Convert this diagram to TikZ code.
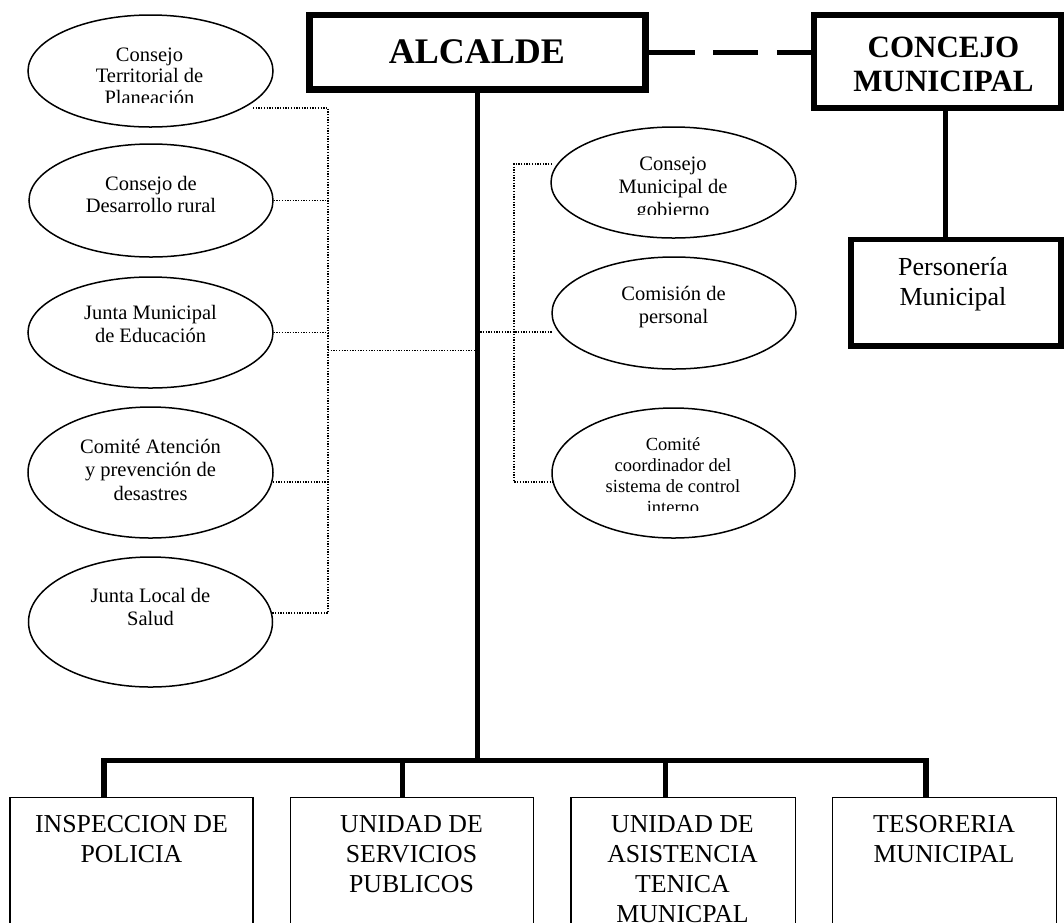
\documentclass[tikz,border=0pt]{standalone}
\usepackage{fontspec}
\setmainfont{Liberation Serif}
\usetikzlibrary{shapes.geometric}
\begin{document}
\begin{tikzpicture}[x=1pt,y=-1pt,
  thickbox/.style={draw, rectangle, inner sep=0pt, line join=miter},
  unitbox/.style={draw, rectangle, inner sep=0pt, line width=1.5pt, minimum width=#1, minimum height=190pt},
  oval/.style={draw, ellipse, inner sep=0pt, line width=1.5pt},
  ovaltext/.style={anchor=base, align=center, inner sep=0pt, font=\fontsize{20.5pt}{23pt}\selectfont},
  unittext/.style={anchor=base, align=center, inner sep=0pt, font=\fontsize{25.8pt}{30pt}\selectfont},
  thickline/.style={line width=5pt},
  dotline/.style={line width=1.3pt, dash pattern=on 1.3pt off 1.4pt}
]
\useasboundingbox (0,0) rectangle (1064,922);

% ---------- ellipses (left) ----------
\node[oval, minimum width=245pt, minimum height=112pt] (E1) at (150.5,71) {};
\node[oval, minimum width=244pt, minimum height=113pt] (E2) at (151,200.5) {};
\node[oval, minimum width=245pt, minimum height=111pt] (E3) at (150.5,332.5) {};
\node[oval, minimum width=245pt, minimum height=131pt] (E4) at (150.5,472.5) {};
\node[oval, minimum width=244pt, minimum height=130pt] (E5) at (150.5,622) {};
% ---------- ellipses (right) ----------
\node[oval, minimum width=245pt, minimum height=111pt] (R1) at (673.5,182.5) {};
\node[oval, minimum width=244pt, minimum height=112pt] (R2) at (674,313) {};
\node[oval, minimum width=243pt, minimum height=130pt] (R3) at (673.5,473) {};

% ---------- ellipse texts (anchor base = last line baseline) ----------
\begin{scope}
  \clip (0,0) rectangle (300,102.5);
  \node[ovaltext, font=\fontsize{20.5pt}{21.5pt}\selectfont] (E1T) at (149.5,104) {Consejo\\Territorial de\\Planeación};
\end{scope}
\node[ovaltext, font=\fontsize{20.5pt}{22pt}\selectfont] (E2T) at (151,212.5) {Consejo de\\Desarrollo rural};
\node[ovaltext] (E3T) at (150.5,342.5) {Junta Municipal\\de Educación};
\node[ovaltext, font=\fontsize{20.5pt}{23.5pt}\selectfont] (E4T) at (150.5,500) {Comité Atención\\y prevención de\\desastres};
\node[ovaltext] (E5T) at (150.5,625) {Junta Local de\\Salud};
\begin{scope}
  \clip (540,120) rectangle (800,214);
  \node[ovaltext] (R1T) at (673,216) {Consejo\\Municipal de\\gobierno};
\end{scope}
\node[ovaltext] (R2T) at (673.5,323) {Comisión de\\personal};
\begin{scope}
  \clip (540,400) rectangle (800,510.5);
  \node[ovaltext, font=\fontsize{18.5pt}{21pt}\selectfont] (R3T) at (673,513) {Comité\\coordinador del\\sistema de control\\interno};
\end{scope}

% ---------- thick boxes ----------
\node[thickbox, line width=6.5pt, minimum width=336pt, minimum height=74.5pt] (alcalde) at (477.5,52.25) {};
\node[anchor=base, inner sep=0pt, font=\fontsize{36pt}{40pt}\selectfont\bfseries] (alcaldeT) at (477,63) {ALCALDE};
\node[thickbox, line width=6pt, minimum width=246.5pt, minimum height=93pt] (concejo) at (937.25,61.5) {};
\node[anchor=base, align=center, inner sep=0pt, font=\fontsize{31pt}{34pt}\selectfont\bfseries] (concejoT) at (943.5,91) {CONCEJO\\MUNICIPAL};
\node[thickbox, line width=5.5pt, minimum width=210pt, minimum height=106.5pt] (pers) at (956,292.75) {};
\node[anchor=base, align=center, inner sep=0pt, font=\fontsize{26pt}{30pt}\selectfont] (persT) at (953,305) {Personería\\Municipal};

% ---------- bottom units ----------
\node[unitbox=243pt] (u1) at (131.5,892.7) {};
\node[unitbox=242.6pt] (u2) at (412,892.7) {};
\node[unitbox=224.7pt] (u3) at (683.35,892.7) {};
\node[unitbox=224.4pt] (u4) at (944.5,892.7) {};
\node[unittext] (u1T) at (131.5,862) {INSPECCION DE\\POLICIA};
\node[unittext] (u2T) at (411.5,892) {UNIDAD DE\\SERVICIOS\\PUBLICOS};
\node[unittext] (u3T) at (682.5,922) {UNIDAD DE\\ASISTENCIA\\TENICA\\MUNICPAL};
\node[unittext] (u4T) at (944,862) {TESORERIA\\MUNICIPAL};

% ---------- dotted connectors ----------
\coordinate (lvx) at (328,0);
\coordinate (e1c) at (253,108);
\coordinate (e4c) at (273,482);
\coordinate (e5c) at (272,613);
\coordinate (lh) at (328,350.5);
\draw[dotline] (e1c) -- (e1c -| lvx) -- (e5c -| lvx) -- (e5c);
\draw[dotline] (E2.east) -- (E2.east -| lvx);
\draw[dotline] (E3.east) -- (E3.east -| lvx);
\draw[dotline] (e4c) -- (e4c -| lvx);
\draw[dotline] (lh) -- (lh -| alcalde.south);

\coordinate (rvx) at (514,0);
\coordinate (r1c) at (552,164);
\coordinate (r2c) at (553,332);
\coordinate (r3c) at (553,482);
\draw[dotline] (r1c) -- (r1c -| rvx) -- (r3c -| rvx) -- (r3c);
\draw[dotline] (r2c -| alcalde.south) -- (r2c);

% ---------- solid connectors ----------
\coordinate (bus1) at (104,760.5);
\coordinate (bus2) at (402.7,760.5);
\coordinate (bus3) at (665,760.5);
\coordinate (bus4) at (926,760.5);
\draw[thickline, line width=5.5pt, line join=miter] (bus1 |- u1.north) -- (bus1) -- (bus4) -- (bus4 |- u4.north);
\draw[thickline] (bus2) -- (bus2 |- u2.north);
\draw[thickline] (bus3) -- (bus3 |- u3.north);
\draw[thickline] (alcalde.south) -- (alcalde.south |- bus1);

\draw[thickline, dash pattern=on 46pt off 18.5pt on 45pt off 18.5pt] (alcalde.east) -- (alcalde.east -| concejo.west);

\coordinate (cpx) at (945,0);
\draw[thickline] (concejo.south -| cpx) -- (pers.north -| cpx);
\end{tikzpicture}
\end{document}
